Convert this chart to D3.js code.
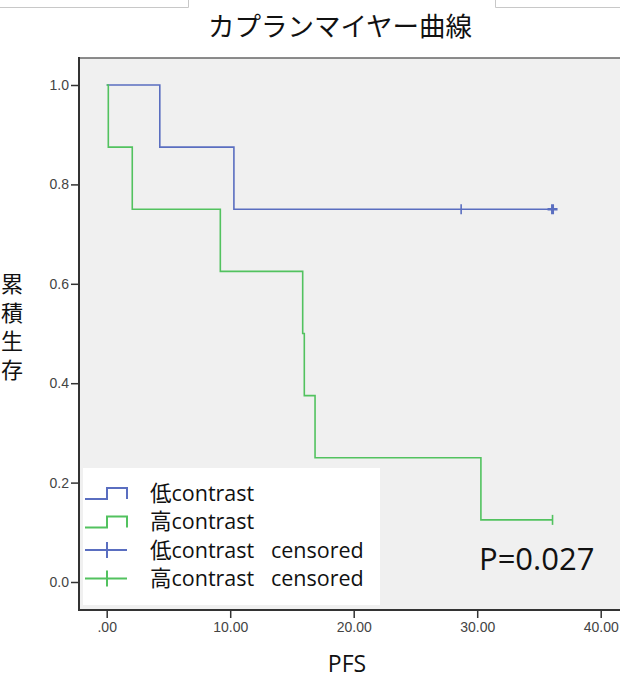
<!DOCTYPE html>
<html>
<head>
<meta charset="utf-8">
<script src="https://cdn.jsdelivr.net/npm/d3@7"></script>
<style>
  body { margin: 0; background: #fff; }
  text { font-family: "Open Sans", "Noto Sans CJK JP", sans-serif; }
</style>
</head>
<body>
<div id="chart"></div>
<script>
// Kaplan-Meier data
const lowTimes = [0, 4.3, 10.3];
const lowSurv = [1.0, 0.875, 0.75];
const lowCensored = [28.7, 36.1];
const highTimes = [0, 0.13, 2.07, 9.2, 15.87, 16.0, 16.87, 30.3];
const highSurv = [1.0, 0.875, 0.75, 0.625, 0.5, 0.375, 0.25, 0.125];
const highCensored = [36.1];
const xTicks = [0, 10, 20, 30, 40];
const yTicks = [0, 0.2, 0.4, 0.6, 0.8, 1.0];
const legendLabels = ['低contrast', '高contrast', '低contrast   censored', '高contrast   censored'];
const titleText = 'カプランマイヤー曲線';
const yLabel = ['累', '積', '生', '存'];
const pText = 'P=0.027';

const width = 620, height = 678;
const blue = '#5a6ec0', green = '#52c25f';

const svg = d3.select('#chart').append('svg')
  .attr('width', width)
  .attr('height', height);

// faint boxes at the very top
svg.append('path')
  .attr('d', 'M0,7.5H188.5V0M620,7.5H495.5V0')
  .attr('fill', 'none').attr('stroke', '#c8c8c8');

const x = d3.scaleLinear().domain([0, 40]).range([106.7, 600.7]);
const y = d3.scaleLinear().domain([0, 1]).range([582, 85]);

// plot background
svg.append('rect')
  .attr('x', 79).attr('y', 58)
  .attr('width', width - 79).attr('height', 610 - 58)
  .attr('fill', '#f0f0f0');
svg.append('line')
  .attr('x1', 79).attr('x2', width).attr('y1', 58).attr('y2', 58)
  .attr('stroke', '#666').attr('stroke-width', 1.5);

// title and axis titles
svg.append('text')
  .attr('x', 340).attr('y', 36)
  .attr('text-anchor', 'middle')
  .attr('font-size', 26.5)
  .style('font-family', '"Noto Sans CJK JP"')
  .attr('fill', '#111')
  .text(titleText);

svg.append('text')
  .attr('x', 347).attr('y', 672)
  .attr('text-anchor', 'middle')
  .attr('font-size', 23)
  .attr('fill', '#111')
  .text('PFS');

// y label stacked one char per line, in a single text element
svg.append('text')
  .attr('y', 292)
  .attr('text-anchor', 'middle')
  .attr('font-size', 22)
  .style('font-family', '"Noto Sans CJK JP"')
  .attr('fill', '#111')
  .selectAll('tspan')
  .data(yLabel)
  .enter().append('tspan')
  .attr('x', 12)
  .attr('dy', (d, i) => i === 0 ? 0 : 28.5)
  .text(d => d);

// survival curves
const stepLine = d3.line()
  .x(d => x(d[0]))
  .y(d => y(d[1]))
  .curve(d3.curveStepAfter);

function curvePoints(times, surv, end) {
  const pts = times.map((t, i) => [t, surv[i]]);
  pts.push([end, surv[surv.length - 1]]);
  return pts;
}

svg.append('path')
  .attr('d', stepLine(curvePoints(lowTimes, lowSurv, d3.max(lowCensored))))
  .attr('fill', 'none').attr('stroke', blue).attr('stroke-width', 1.6);
svg.append('path')
  .attr('d', stepLine(curvePoints(highTimes, highSurv, d3.max(highCensored))))
  .attr('fill', 'none').attr('stroke', green).attr('stroke-width', 1.6);

// censor marks
svg.append('g').selectAll('line')
  .data(lowCensored)
  .enter().append('line')
  .attr('x1', d => x(d)).attr('x2', d => x(d))
  .attr('y1', y(0.75) - 5).attr('y2', y(0.75) + 5)
  .attr('stroke', blue)
  .attr('stroke-width', (d, i) => i === lowCensored.length - 1 ? 3 : 1.6);
svg.append('line')
  .attr('x1', x(36.1) - 5).attr('x2', x(36.1) + 5)
  .attr('y1', y(0.75)).attr('y2', y(0.75))
  .attr('stroke', blue).attr('stroke-width', 2.5);
svg.append('g').selectAll('line')
  .data(highCensored)
  .enter().append('line')
  .attr('x1', d => x(d)).attr('x2', d => x(d))
  .attr('y1', y(0.125) - 5).attr('y2', y(0.125) + 5)
  .attr('stroke', green).attr('stroke-width', 1.6);

// axes
const xAxis = d3.axisBottom(x)
  .tickValues(xTicks)
  .tickSize(8)
  .tickFormat(d => d === 0 ? '.00' : d.toFixed(2));
const gx = svg.append('g')
  .attr('transform', 'translate(0,610)')
  .call(xAxis);
gx.select('.domain').remove();
gx.selectAll('line').attr('stroke', '#333').attr('stroke-width', 1.5);
gx.selectAll('text')
  .attr('y', 12)
  .attr('font-size', 14)
  .style('font-family', '"Liberation Sans", Arial, sans-serif')
  .attr('fill', '#444');

const yAxis = d3.axisLeft(y)
  .tickValues(yTicks)
  .tickSize(8)
  .tickFormat(d3.format('.1f'));
const gy = svg.append('g')
  .attr('transform', 'translate(79,0)')
  .call(yAxis);
gy.select('.domain').remove();
gy.selectAll('line').attr('stroke', '#333').attr('stroke-width', 1.5);
gy.selectAll('text')
  .attr('x', -10)
  .attr('font-size', 14)
  .style('font-family', '"Liberation Sans", Arial, sans-serif')
  .attr('fill', '#444');

svg.append('line')
  .attr('x1', 79).attr('x2', 79).attr('y1', 57).attr('y2', 611)
  .attr('stroke', '#333').attr('stroke-width', 2);
svg.append('line')
  .attr('x1', 78).attr('x2', width).attr('y1', 610).attr('y2', 610)
  .attr('stroke', '#333').attr('stroke-width', 2);

// legend
const legend = svg.append('g');
legend.append('rect')
  .attr('x', 83).attr('y', 468)
  .attr('width', 297).attr('height', 137)
  .attr('fill', '#fff');

const legendColors = [blue, green, blue, green];
const rows = legend.selectAll('g.row')
  .data(legendLabels)
  .enter().append('g')
  .attr('class', 'row')
  .attr('transform', (d, i) => `translate(0,${493 + i * 28.5})`);

rows.append('path')
  .attr('d', (d, i) => i < 2
    ? 'M85,6H107V-5H127V6'
    : 'M85,0H127M107,-8V8')
  .attr('fill', 'none')
  .attr('stroke', (d, i) => legendColors[i])
  .attr('stroke-width', 2);

rows.append('text')
  .attr('x', 150)
  .attr('dy', '0.35em')
  .attr('font-size', 21.5)
  .style('white-space', 'pre')
  .attr('fill', '#111')
  .text(d => d);

// p value
svg.append('text')
  .attr('x', 479).attr('y', 570)
  .attr('font-size', 31)
  .attr('fill', '#111')
  .text(pText);
</script>
</body>
</html>
